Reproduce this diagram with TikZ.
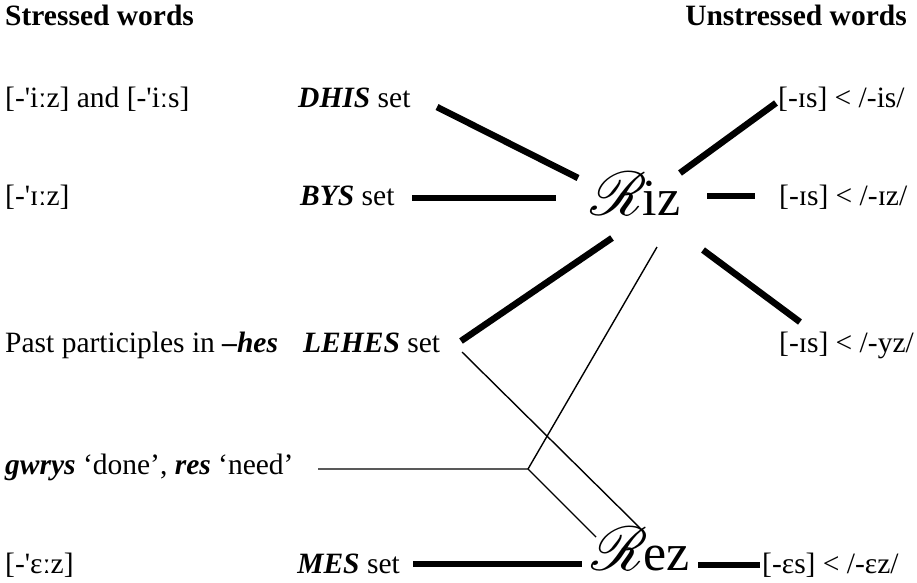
\documentclass[tikz,border=0pt]{standalone}
\usepackage{fontspec}
% plain family: no TeX ligature mapping, so ' stays a straight stress tick
\newfontfamily\tnr{Liberation Serif}
\font\rsfsbig=rsfs10 at 62pt
% script R set on the baseline (its tail lifted by its own depth)
\newcommand\hubR{\setbox0=\hbox{\rsfsbig R}\raise\dp0\box0}
\tikzset{
  lbl/.style={font=\tnr\fontsize{29.5}{33}\selectfont, inner sep=0pt},
  big/.style={font=\tnr\fontsize{52}{56}\selectfont, inner sep=0pt},
  heavy/.style={line width=6.5pt},
  light/.style={line width=1.4pt},
}
\newcommand\bi[1]{\textbf{\textit{#1}}}
\begin{document}
\begin{tikzpicture}[x=1pt,y=-1pt]
\useasboundingbox (0,0) rectangle (917,582);

% column headings
\node[lbl, anchor=base west] (stressed) at (5,25) {\bfseries Stressed words};
\node[lbl, anchor=base east] (unstressed) at (907,25) {\bfseries Unstressed words};

% left column
\node[lbl, anchor=base west] (iizs) at (5,107) {[-'iːz] and [-'iːs]};
\node[lbl, anchor=base west] (Iz) at (5,205) {[-'ɪːz]};
\node[lbl, anchor=base west] (past) at (5,352) {Past participles in \bi{–hes}};
\node[lbl, anchor=base west] (gwrys) at (5,474) {\bi{gwrys} ‘done’, \bi{res} ‘need’};
\node[lbl, anchor=base west] (ez) at (5,573) {[-'ɛːz]};

% word sets
\node[lbl, anchor=base west] (dhis) at (298,107) {\bi{DHIS} set};
\node[lbl, anchor=base west] (bys) at (300,205) {\bi{BYS} set};
\node[lbl, anchor=base west] (lehes) at (303,352) {\bi{LEHES} set};
\node[lbl, anchor=base east] (mes) at (400,573) {\bi{MES} set};

% the two hubs
\node[big, anchor=base west] (riz) at (590,215) {\hubR iz};
\node[big, anchor=base west] (rez) at (591,570) {\hubR ez};

% right column
\node[lbl, anchor=base west] (ris) at (778,107) {[-ɪs] < /-is/};
\node[lbl, anchor=base west] (rIz) at (779,205) {[-ɪs] < /-ɪz/};
\node[lbl, anchor=base west] (ryz) at (779,352) {[-ɪs] < /-yz/};
\node[lbl, anchor=base west] (rez2) at (762,573) {[-ɛs] < /-ɛz/};

% connector end points
\coordinate (dhisA) at (437,107);  \coordinate (dhisB) at (578,178);
\coordinate (bysA)  at (412,198);  \coordinate (bysB)  at (556,198);
\coordinate (izE1)  at (707,196);  \coordinate (izE2)  at (755,196);
\coordinate (isA)   at (680,173);  \coordinate (isB)   at (776,103);
\coordinate (yzA)   at (703,250);  \coordinate (yzB)   at (800,322);
\coordinate (lhA)   at (612,238);  \coordinate (lhB)   at (461,341);
\coordinate (rizLow) at (657,247);
\coordinate (join)  at (528,469);
\coordinate (gwA)   at (318,469);
\coordinate (rezL)  at (596,537);
\coordinate (lhC)   at (462,352);  \coordinate (rezR) at (640,528);
\coordinate (mesA)  at (413,564);  \coordinate (mesB)  at (582,564);
\coordinate (ezA)   at (698,565);  \coordinate (ezB)   at (760,565);

% heavy links
\draw[heavy] (dhisA) -- (dhisB);
\draw[heavy] (bysA) -- (bysB);
\draw[heavy] (izE1) -- (izE2);
\draw[heavy] (isA) -- (isB);
\draw[heavy] (yzA) -- (yzB);
\draw[heavy] (lhA) -- (lhB);
\draw[heavy] (mesA) -- (mesB);
\draw[heavy] (ezA) -- (ezB);

% light links
\draw[light] (gwA) -- (join) -- (rezL);
\draw[light] (join) -- (rizLow);
\draw[light] (lhC) -- (rezR);
\end{tikzpicture}
\end{document}
